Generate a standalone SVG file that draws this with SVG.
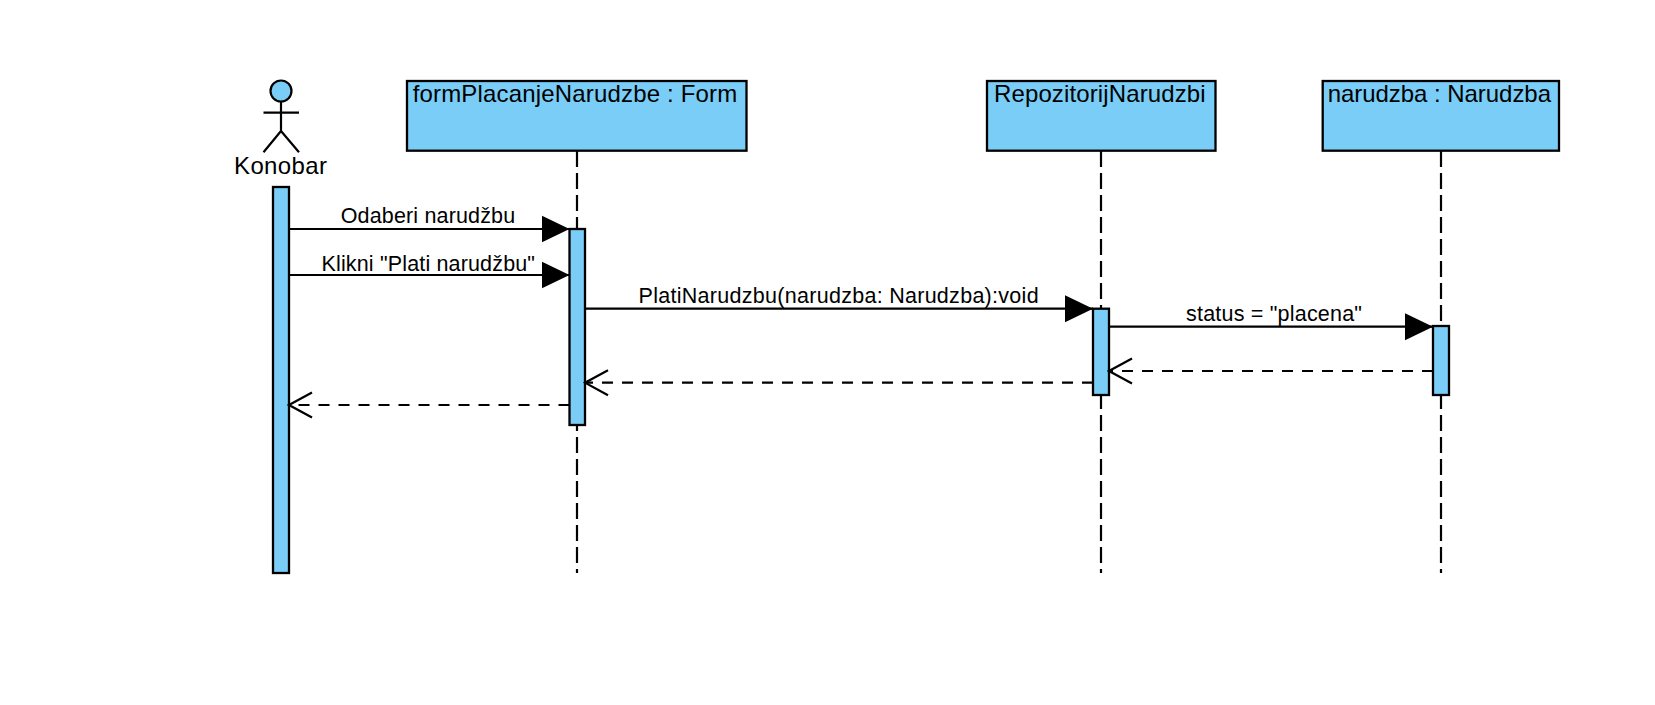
<svg xmlns="http://www.w3.org/2000/svg" width="1655" height="705" viewBox="0 0 1655 705">
<style>
.box{fill:#7acdf6;stroke:#000;stroke-width:2.3}
.bar{fill:#7acdf6;stroke:#000;stroke-width:2.3}
.life{stroke:#000;stroke-width:2.2;stroke-dasharray:16 6;fill:none}
.msg{stroke:#000;stroke-width:2.2;fill:none}
.ret{stroke:#000;stroke-width:2.2;stroke-dasharray:11 9;fill:none}
.fig{stroke:#000;stroke-width:2.2;fill:none}
text{font-family:"Liberation Sans",Arial,sans-serif;font-size:21.5px;fill:#000}
.title{font-size:24px}
</style>
<defs>
<marker id="solid" markerUnits="userSpaceOnUse" markerWidth="30" markerHeight="30" refX="28" refY="14" orient="auto"><polygon points="0,0.5 28,14 0,27.5" fill="#000"/></marker>
<marker id="open" markerUnits="userSpaceOnUse" markerWidth="26" markerHeight="30" refX="24" refY="14" orient="auto"><path d="M1,1.5 L24,14 L1,26.5" fill="none" stroke="#000" stroke-width="2.2"/></marker>
</defs>
<rect width="1655" height="705" fill="#fff"/>
<g id="lifelines">
<line class="life" x1="577" y1="151" x2="577" y2="573"/>
<line class="life" x1="1101" y1="151" x2="1101" y2="573"/>
<line class="life" x1="1441" y1="151" x2="1441" y2="573"/>
</g>
<g id="actor-konobar">
<circle cx="281" cy="91" r="10.5" fill="#7acdf6" stroke="#000" stroke-width="2.2"/>
<path class="fig" d="M281,101.5V131M263.5,112.7H299M263.5,152.3L281,131L299,152.3"/>
<text class="title" x="234" y="174" textLength="93" lengthAdjust="spacing">Konobar</text>
<rect class="bar" x="273" y="187" width="16" height="386"/>
</g>
<g id="node-form">
<rect class="box" x="407" y="81" width="339.5" height="69.7"/>
<text class="title" x="412.7" y="101.7" textLength="324.5" lengthAdjust="spacing">formPlacanjeNarudzbe : Form</text>
<rect class="bar" x="569.5" y="229" width="15.5" height="196"/>
</g>
<g id="node-repozitorij">
<rect class="box" x="987" y="81" width="228.5" height="69.7"/>
<text class="title" x="994" y="101.7" textLength="211.6" lengthAdjust="spacing">RepozitorijNarudzbi</text>
<rect class="bar" x="1093" y="308.7" width="16" height="86.3"/>
</g>
<g id="node-narudzba">
<rect class="box" x="1322.7" y="81" width="236.3" height="69.7"/>
<text class="title" x="1327.7" y="101.7" textLength="223.3" lengthAdjust="spacing">narudzba : Narudzba</text>
<rect class="bar" x="1433" y="326" width="16" height="69"/>
</g>
<g id="connectors">
<line class="msg" x1="288" y1="229" x2="569.5" y2="229" marker-end="url(#solid)"/>
<line class="msg" x1="288" y1="275" x2="569.5" y2="275" marker-end="url(#solid)"/>
<line class="msg" x1="584" y1="308.7" x2="1093" y2="308.7" marker-end="url(#solid)"/>
<line class="msg" x1="1108" y1="326.7" x2="1433" y2="326.7" marker-end="url(#solid)"/>
<line class="ret" x1="1433" y1="371" x2="1109" y2="371" marker-end="url(#open)"/>
<line class="ret" x1="1093" y1="382.7" x2="585" y2="382.7" marker-end="url(#open)"/>
<line class="ret" x1="569.5" y1="405" x2="289" y2="405" marker-end="url(#open)"/>
</g>
<g id="labels">
<text x="340.7" y="222.5" textLength="174.5" lengthAdjust="spacing">Odaberi narudžbu</text>
<text x="321.5" y="270.7" textLength="213.5" lengthAdjust="spacing">Klikni "Plati narudžbu"</text>
<text x="638.6" y="302.5" textLength="400" lengthAdjust="spacing">PlatiNarudzbu(narudzba: Narudzba):void</text>
<text x="1186" y="320.5" textLength="176" lengthAdjust="spacing">status = "placena"</text>
</g>
</svg>
